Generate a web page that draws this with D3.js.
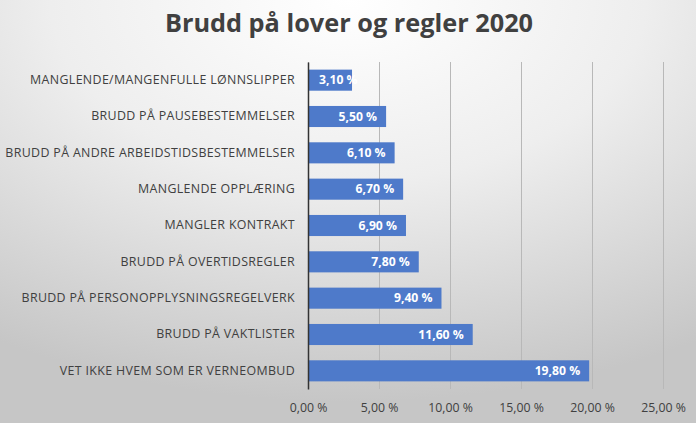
<!DOCTYPE html>
<html><head><meta charset="utf-8">
<script src="https://cdn.jsdelivr.net/npm/d3@7"></script>
<style>body{margin:0;padding:0;overflow:hidden}svg{display:block}</style>
</head><body>
<svg id="chart" width="696" height="423"></svg>
<script>
const title = "Brudd på lover og regler 2020";
const categories = [
  "MANGLENDE/MANGENFULLE LØNNSLIPPER",
  "BRUDD PÅ PAUSEBESTEMMELSER",
  "BRUDD PÅ ANDRE ARBEIDSTIDSBESTEMMELSER",
  "MANGLENDE OPPLÆRING",
  "MANGLER KONTRAKT",
  "BRUDD PÅ OVERTIDSREGLER",
  "BRUDD PÅ PERSONOPPLYSNINGSREGELVERK",
  "BRUDD PÅ VAKTLISTER",
  "VET IKKE HVEM SOM ER VERNEOMBUD"
];
const values = [3.1, 5.5, 6.1, 6.7, 6.9, 7.8, 9.4, 11.6, 19.8];
const xTicks = [0, 5, 10, 15, 20, 25];

const W = 696, H = 423;
const margin = {left: 308, right: 33, top: 62, bottom: 34};
const svg = d3.select("#chart");
const defs = svg.append("defs");
const grad = defs.append("radialGradient").attr("id","bg")
  .attr("cx","50%").attr("cy","0%").attr("r","95%").attr("fx","50%").attr("fy","0%");
grad.append("stop").attr("offset","0%").attr("stop-color","#ffffff");
grad.append("stop").attr("offset","45%").attr("stop-color","#eeeeee");
grad.append("stop").attr("offset","100%").attr("stop-color","#c6c6c6");
svg.append("rect").attr("width",W).attr("height",H).attr("fill","url(#bg)");

const fmt = v => d3.format(".2f")(v).replace(".", ",") + " %";

const x = d3.scaleLinear().domain([0, 25]).range([margin.left, W - margin.right]);
const y = d3.scaleBand().domain(categories).range([margin.top, H - margin.bottom]).paddingInner(0.42).paddingOuter(0.21);

const font = "'Open Sans', sans-serif";

svg.append("text").attr("x", 349).attr("y", 32).attr("text-anchor","middle")
  .attr("font-family", font).attr("font-weight","bold").attr("font-size", 25.3)
  .attr("fill","#404040").text(title);

// grid
const grid = svg.append("g")
  .attr("transform", `translate(0,${H - margin.bottom})`)
  .call(d3.axisBottom(x).tickValues(xTicks).tickSize(-(H - margin.top - margin.bottom)).tickFormat(""));
grid.select(".domain").remove();
grid.selectAll("line").attr("stroke","#b8b8b8").attr("stroke-width",1);

// x tick labels
const xa = svg.append("g")
  .attr("transform", `translate(0,${H - margin.bottom})`)
  .call(d3.axisBottom(x).tickValues(xTicks).tickSize(0).tickPadding(14).tickFormat(fmt));
xa.select(".domain").remove();
xa.selectAll("text").attr("font-family", font).attr("font-size", 12.3).attr("fill","#404040");

// bars
svg.append("g").selectAll("rect").data(values).join("rect")
  .attr("x", x(0)).attr("y", (d,i) => y(categories[i]))
  .attr("width", d => x(d) - x(0)).attr("height", y.bandwidth())
  .attr("fill", "#4e7aca");

// value labels
const vl = svg.append("g").selectAll("text").data(values).join("text")
  .attr("y", (d,i) => y(categories[i]) + y.bandwidth()/2)
  .attr("dy","0.35em").attr("text-anchor","start")
  .attr("font-family", font).attr("font-weight","bold").attr("font-size", 12.2)
  .attr("fill","#ffffff").text(fmt);
vl.each(function(d){
  const w = this.getComputedTextLength();
  d3.select(this).attr("x", Math.max(x(0) + 11, x(d) - 9 - w));
});

// y axis
const ya = svg.append("g").attr("transform", `translate(${x(0)},0)`)
  .call(d3.axisLeft(y).tickSize(0).tickPadding(13));
ya.select(".domain").attr("stroke","#333333").attr("stroke-width",1.5);
ya.selectAll("text").attr("font-family", font).attr("font-size", 12.4)
  .attr("letter-spacing", "0.35px").attr("fill","#404040");
</script>
</body></html>
